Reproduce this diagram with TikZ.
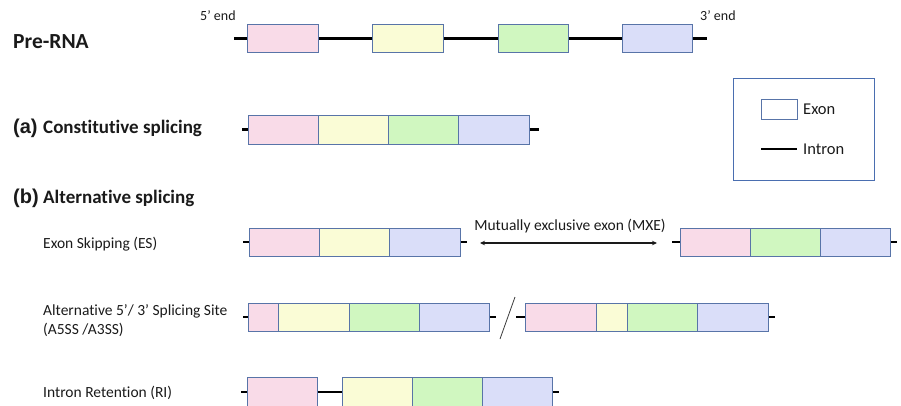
\documentclass[tikz,border=0pt]{standalone}
\usepackage{fontspec}
\setmainfont[RawFeature={-liga}]{Carlito}
\newfontfamily\arialf{Liberation Sans}
\usetikzlibrary{arrows.meta}
\definecolor{cpink}{HTML}{F9DBE8}
\definecolor{cyellow}{HTML}{FAFCD6}
\definecolor{cgreen}{HTML}{D0F7C0}
\definecolor{cblue}{HTML}{DADEF9}
\definecolor{eborder}{HTML}{5874A8}
\definecolor{lborder}{HTML}{4A6EB0}
\definecolor{ink}{HTML}{1A1A1A}
\tikzset{
  exon/.style={draw=eborder, line width=0.9pt, inner sep=0pt, anchor=west, minimum height=28pt},
  intron/.style={line width=2.8pt, black},
  lbl/.style={inner sep=0pt, anchor=base west, text=ink, font=\fontsize{15.5}{18}\selectfont},
  head/.style={inner sep=0pt, anchor=base west, text=ink, font=\fontsize{19}{22}\selectfont\bfseries},
  tag/.style={inner sep=0pt, anchor=base west, text=ink, font=\fontsize{20}{22}\selectfont\arialf\bfseries},
  endlbl/.style={inner sep=0pt, anchor=base west, text=ink, font=\fontsize{14}{16}\selectfont},
}
\begin{document}
\begin{tikzpicture}[x=1pt, y=-1pt]
\useasboundingbox (0,0) rectangle (901,405);

% ---- Pre-RNA ----
\node[inner sep=0pt, anchor=base west, text=ink, font=\fontsize{21.5}{24}\selectfont\bfseries] (tpre) at (13,48) {Pre-RNA};
\node[endlbl] (t5) at (200,20) {5’ end};
\node[endlbl] (t3) at (700,20) {3’ end};
\coordinate (r0) at (234,38.5);
\coordinate (r5) at (707,38.5);
\node[exon, fill=cpink,   minimum width=71pt] (r1) at (247,38.5) {};
\node[exon, fill=cyellow, minimum width=71pt] (r2) at (372,38.5) {};
\node[exon, fill=cgreen,  minimum width=70pt] (r3) at (498,38.5) {};
\node[exon, fill=cblue,   minimum width=70pt] (r4) at (622,38.5) {};
\draw[intron] (r0) -- (r1) (r1) -- (r2) (r2) -- (r3) (r3) -- (r4) (r4) -- (r5);

% ---- (a) constitutive splicing ----
\node[tag] (ta) at (13,133) {(a)};
\node[head] (tca) at (43,133) {Constitutive splicing};
\coordinate (a0) at (242,129.5);
\coordinate (a5) at (539,129.5);
\node[exon, fill=cpink,   minimum width=70pt, minimum height=29pt] (a1) at (248,129.5) {};
\node[exon, fill=cyellow, minimum width=70pt, minimum height=29pt] (a2) at (318,129.5) {};
\node[exon, fill=cgreen,  minimum width=70pt, minimum height=29pt] (a3) at (388,129.5) {};
\node[exon, fill=cblue,   minimum width=71pt, minimum height=29pt] (a4) at (458,129.5) {};
\draw[intron] (a0) -- (a1) (a4) -- (a5);

% ---- (b) alternative splicing ----
\node[tag] (tb) at (13,203) {(b)};
\node[head] (tcb) at (43,203) {Alternative splicing};

% exon skipping
\node[lbl] (tes) at (43,248) {Exon Skipping (ES)};
\coordinate (e0) at (243,242);
\coordinate (e4) at (467,242);
\node[exon, fill=cpink,   minimum width=70pt] (e1) at (249,242) {};
\node[exon, fill=cyellow, minimum width=70pt] (e2) at (319,242) {};
\node[exon, fill=cblue,   minimum width=71pt] (e3) at (389,242) {};
\draw[intron] (e0) -- (e1) (e3) -- (e4);

% mutually exclusive exon
\node[inner sep=0pt, text=ink, font=\fontsize{15.5}{18}\selectfont] (tmxe) at (570,226) {Mutually exclusive exon (MXE)};
\coordinate (x1) at (480,243);
\coordinate (x2) at (657,243);
\draw[ink, line width=1.4pt, {Stealth[length=5pt,width=4.5pt]}-{Stealth[length=5pt,width=4.5pt]}] (x1) -- (x2);
\coordinate (m0) at (672,242);
\coordinate (m4) at (897,242);
\node[exon, fill=cpink,  minimum width=70pt] (m1) at (680,242) {};
\node[exon, fill=cgreen, minimum width=70pt] (m2) at (750,242) {};
\node[exon, fill=cblue,  minimum width=70pt] (m3) at (820,242) {};
\draw[intron] (m0) -- (m1) (m3) -- (m4);

% alternative 5'/3' splicing site
\node[lbl] (ta5a) at (43,315) {Alternative 5’/ 3’ Splicing Site};
\node[lbl] (ta5b) at (43,334) {(A5SS /A3SS)};
\coordinate (f0) at (243,317);
\coordinate (f5) at (496,317);
\node[exon, fill=cpink,   minimum width=30pt] (f1) at (248,317) {};
\node[exon, fill=cyellow, minimum width=71pt] (f2) at (278,317) {};
\node[exon, fill=cgreen,  minimum width=70pt] (f3) at (349,317) {};
\node[exon, fill=cblue,   minimum width=70pt] (f4) at (419,317) {};
\draw[intron] (f0) -- (f1) (f4) -- (f5);
\coordinate (s1) at (500,339);
\coordinate (s2) at (515,297);
\draw[ink!85, line width=0.8pt] (s1) -- (s2);
\coordinate (g0) at (516,317);
\coordinate (g5) at (775,317);
\node[exon, fill=cpink,   minimum width=71pt] (g1) at (525,317) {};
\node[exon, fill=cyellow, minimum width=31pt] (g2) at (596,317) {};
\node[exon, fill=cgreen,  minimum width=70pt] (g3) at (627,317) {};
\node[exon, fill=cblue,   minimum width=71pt] (g4) at (697,317) {};
\draw[intron] (g0) -- (g1) (g4) -- (g5);

% intron retention
\node[lbl] (tri) at (43,397) {Intron Retention (RI)};
\coordinate (i0) at (241,392);
\coordinate (i5) at (559,392);
\node[exon, fill=cpink,   minimum width=70pt, minimum height=30pt] (i1) at (247,392) {};
\node[exon, fill=cyellow, minimum width=70pt, minimum height=30pt] (i2) at (342,392) {};
\node[exon, fill=cgreen,  minimum width=70pt, minimum height=30pt] (i3) at (412,392) {};
\node[exon, fill=cblue,   minimum width=70pt, minimum height=30pt] (i4) at (482,392) {};
\draw[intron] (i0) -- (i1) (i1) -- (i2) (i4) -- (i5);

% ---- legend ----
\node[draw=lborder, line width=1pt, minimum width=141pt, minimum height=102pt, inner sep=0pt] (legend) at (803.5,129) {};
\node[exon, minimum width=36pt, minimum height=20pt] (lex) at (761,109) {};
\node[inner sep=0pt, anchor=west, text=ink, font=\fontsize{16.5}{18}\selectfont] (tlex) at (803,109) {Exon};
\coordinate (lin1) at (761,149);
\coordinate (lin2) at (797,149);
\draw[intron] (lin1) -- (lin2);
\node[inner sep=0pt, anchor=west, text=ink, font=\fontsize{16.5}{18}\selectfont] (tlin) at (803,149) {Intron};
\end{tikzpicture}
\end{document}
